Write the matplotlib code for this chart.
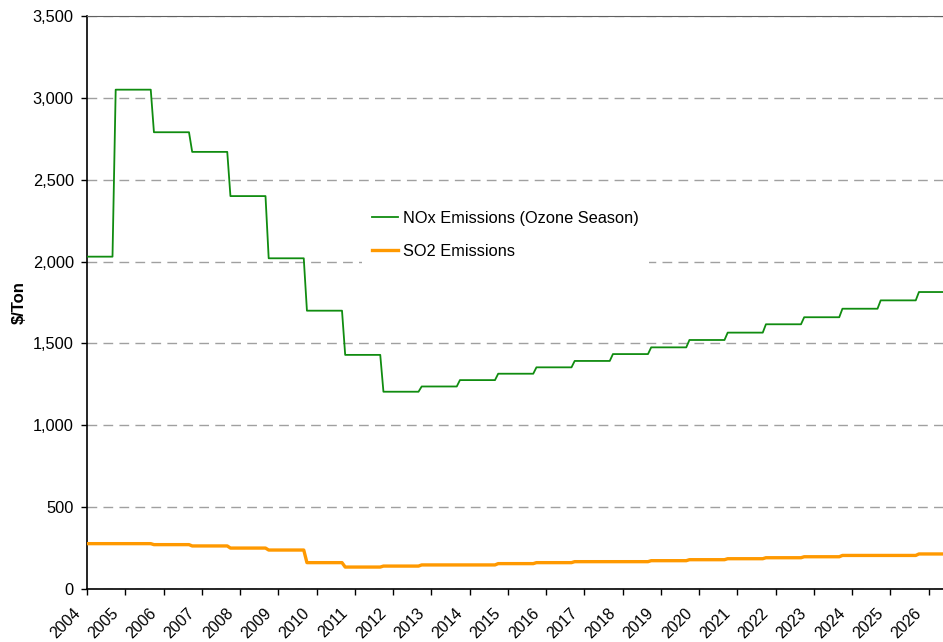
import numpy as np
import matplotlib.pyplot as plt
import matplotlib.transforms as mtransforms
from matplotlib.ticker import FuncFormatter

plt.rcParams['font.family'] = ['Liberation Sans', 'DejaVu Sans']

# Allowance price for each compliance period (period k runs Oct of year 2003+k to Sep of the next)
nox_price = [2030, 3050, 2790, 2670, 2400, 2020, 1700, 1430, 1205, 1237, 1276, 1315,
             1354, 1393, 1435, 1476, 1521, 1566, 1617, 1660, 1712, 1763, 1814]
so2_price = [277, 277, 271, 263, 250, 238, 161, 134, 140, 147, 147, 155,
             161, 167, 167, 173, 179, 185, 191, 197, 205, 205, 214]
years = list(range(2004, 2027))

# monthly series starting Jan 2004, new period value kicks in each October
months = np.arange(0, 272)
t = 2004 + months / 12
period = np.minimum((months + 3) // 12, len(nox_price) - 1)
nox = np.array(nox_price)[period]
so2 = np.array(so2_price)[period]

fig = plt.figure(figsize=(9.43, 6.42), dpi=100)
ax = fig.add_axes([87 / 943, 53 / 642, 856 / 943, 573 / 642])

ax.plot(t, nox, color='#108c10', lw=1.3, label='NOx Emissions (Ozone Season)', zorder=3)
ax.plot(t, so2, color='#ff9900', lw=2.4, label='SO2 Emissions', zorder=3)

ax.set_xlim(2004, 2004 + 856 / 38.25)
ax.set_ylim(0, 3500)
ax.set_yticks(np.arange(0, 3501, 500))
ax.yaxis.set_major_formatter(FuncFormatter(lambda v, p: f'{int(v):,}'))
ax.set_xticks(years)
ax.set_xticklabels([str(y) for y in years], rotation=45, ha='right', va='top')

ax.grid(axis='y', color='#a0a0a0', linestyle=(0, (7, 4.5)), lw=1.0, zorder=1)
ax.spines['right'].set_visible(False)
ax.spines['top'].set_color('#606060')
ax.spines['left'].set_linewidth(1.2)
ax.spines['bottom'].set_linewidth(1.2)

ax.tick_params(axis='both', direction='out', length=4, width=1, labelsize=11.8, colors='black')
ax.tick_params(axis='y', pad=5.5)
ax.tick_params(axis='x', labelsize=11.5, pad=8)

shift = mtransforms.ScaledTranslation(-4 / 100, 0, fig.dpi_scale_trans)
for lbl in ax.get_xticklabels():
    lbl.set_transform(lbl.get_transform() + shift)

ax.set_ylabel('$/Ton', fontsize=12, fontweight='bold')
ax.yaxis.set_label_coords((27 - 87) / 856, 0.5)

leg = ax.legend(loc='upper left', bbox_to_anchor=((362 - 87) / 856, (589 - 201) / 573),
                frameon=True, fontsize=11.8, handlelength=1.6, handletextpad=0.3,
                labelspacing=1.1, borderpad=0.6, borderaxespad=0)
leg.get_frame().set_facecolor('white')
leg.get_frame().set_edgecolor('none')
leg.get_frame().set_alpha(1)
leg.set_zorder(2)

fig.savefig('out.png', dpi=100)
